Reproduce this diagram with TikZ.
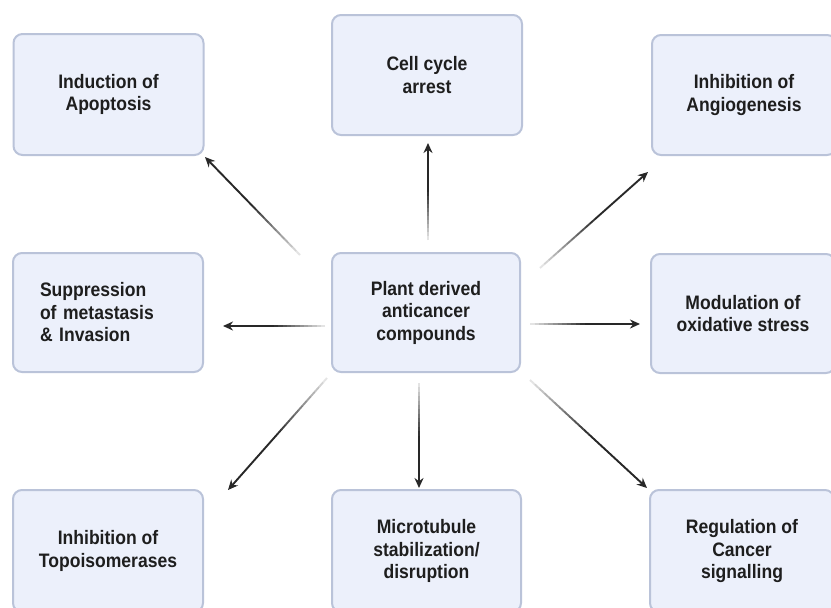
\documentclass[tikz,border=0pt]{standalone}
\usepackage{fontspec}
\newfontfamily\boxfont{Liberation Sans}[FakeStretch=0.9]
\usetikzlibrary{arrows.meta,calc}
\definecolor{boxfill}{RGB}{236,240,251}
\definecolor{boxline}{RGB}{186,195,217}
\definecolor{arrowcol}{RGB}{40,40,40}
\definecolor{txt}{RGB}{30,30,30}
\newcommand{\fadearrow}[2]{%
  \foreach \k in {0,...,11}{%
    \pgfmathsetmacro\op{0.05+0.9*(\k+1)/12}%
    \draw[arrowcol, line width=1.9pt, draw opacity=\op] ($(#1)!{\k/24}!(#2)$) -- ($(#1)!{(\k+1)/24}!(#2)$);
  }%
  \draw[arrowcol, line width=1.9pt, -{Stealth[length=10pt,width=9pt]}] ($(#1)!0.5!(#2)$) -- (#2);
}
\begin{document}
\begin{tikzpicture}[x=1pt,y=-1pt,
  box/.style={draw=boxline, fill=boxfill, line width=2pt, rounded corners=9pt,
    align=center, font=\boxfont\bfseries\fontsize{19.5}{22.5}\selectfont,
    text=txt, inner sep=0pt}]
\useasboundingbox (0,0) rectangle (831,608);
\clip (0,0) rectangle (831,608);
\fill[white] (0,0) rectangle (831,608);

\node[box, minimum width=190pt, minimum height=121pt] (apop) at (108.5,94.5) {Induction of\\Apoptosis};
\node[box, minimum width=190pt, minimum height=120pt] (cell) at (427,75) {Cell cycle\\arrest};
\node[box, minimum width=184pt, minimum height=120pt] (angio) at (744,95) {Inhibition of\\Angiogenesis};
\node[box, minimum width=190pt, minimum height=119pt, text width=136pt, align=left] (supp) at (108,312.5) {Suppression\\of metastasis\\\& Invasion};
\node[box, minimum width=188pt, minimum height=119pt] (plant) at (426,312.5) {Plant derived\\anticancer\\compounds};
\node[box, minimum width=184pt, minimum height=119pt] (mod) at (743,313.5) {Modulation of\\oxidative stress};
\node[box, minimum width=190pt, minimum height=122pt] (topo) at (108,551) {Inhibition of\\Topoisomerases};
\node[box, minimum width=189pt, minimum height=122pt] (micro) at (426.5,551) {Microtubule\\stabilization/\\disruption};
\node[box, minimum width=184pt, minimum height=122pt] (reg) at (742,551) {Regulation of\\Cancer\\signalling};

\coordinate (s1) at (300,255); \coordinate (e1) at (205,157);
\coordinate (s2) at (428,240); \coordinate (e2) at (428,143);
\coordinate (s3) at (540,268); \coordinate (e3) at (648,172);
\coordinate (s4) at (325,326); \coordinate (e4) at (223,326);
\coordinate (s5) at (530,324); \coordinate (e5) at (640,324);
\coordinate (s6) at (327,378); \coordinate (e6) at (228,490);
\coordinate (s7) at (419,383); \coordinate (e7) at (419,488);
\coordinate (s8) at (530,380); \coordinate (e8) at (647,488);

\fadearrow{s1}{e1}
\fadearrow{s2}{e2}
\fadearrow{s3}{e3}
\fadearrow{s4}{e4}
\fadearrow{s5}{e5}
\fadearrow{s6}{e6}
\fadearrow{s7}{e7}
\fadearrow{s8}{e8}
\end{tikzpicture}
\end{document}
